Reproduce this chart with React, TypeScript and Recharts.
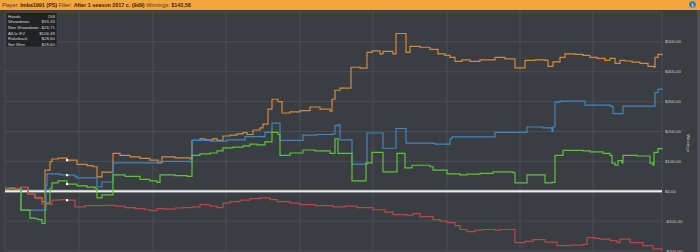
import React from 'react';
import { LineChart, Line, XAxis, YAxis, CartesianGrid, ReferenceLine } from 'recharts';

// ---- data (hand number -> cumulative winnings in $) ----
const orangeHands = [0, 5, 10, 15, 23, 30, 37, 40, 45, 47, 53, 62, 72, 82, 88, 92, 97, 108, 115, 125, 135, 145, 153, 157, 170, 185, 187, 195, 200, 208, 212, 218, 225, 232, 238, 242, 248, 255, 258, 263, 267, 273, 277, 285, 295, 305, 315, 325, 327, 330, 335, 346, 355, 362, 367, 375, 378, 388, 391, 398, 401, 405, 415, 425, 433, 440, 445, 450, 457, 465, 475, 490, 500, 510, 520, 530, 540, 543, 548, 555, 560, 570, 578, 585, 592, 600, 605, 610, 615, 620, 627, 635, 643, 649, 650, 653, 657];
const orangeValues = [10, 12, 9, 13, -10, -22, -35, 71, 99, 108, 111, 104, 90, 86, 82, 48, 64, 127, 120, 115, 110, 104, 95, 115, 112, 108, 170, 175, 172, 176, 170, 185, 188, 192, 196, 190, 205, 212, 225, 275, 308, 300, 262, 266, 270, 282, 275, 268, 308, 338, 345, 415, 412, 465, 470, 460, 468, 460, 528, 528, 465, 485, 482, 475, 460, 455, 448, 435, 440, 435, 440, 448, 443, 413, 438, 440, 438, 418, 433, 448, 460, 458, 455, 448, 445, 438, 445, 428, 438, 436, 432, 428, 418, 415, 448, 458, 455];

const blueHands = [0, 5, 10, 15, 16, 40, 41, 42, 55, 62, 70, 72, 90, 92, 97, 108, 130, 155, 185, 187, 205, 222, 240, 260, 267, 274, 275, 298, 312, 328, 330, 333, 335, 347, 362, 377, 378, 391, 400, 401, 428, 430, 445, 447, 468, 490, 522, 538, 547, 548, 550, 555, 577, 580, 605, 608, 618, 648, 650, 653, 657];
const blueValues = [10, 12, 9, 12, -63, -63, 20, 58, 55, 54, 50, 45, 45, 15, 31, 95, 95, 100, 97, 170, 168, 172, 183, 197, 228, 228, 170, 188, 190, 192, 220, 222, 172, 91, 195, 195, 144, 210, 210, 161, 160, 158, 175, 182, 182, 197, 215, 212, 200, 215, 298, 302, 302, 288, 285, 260, 285, 285, 330, 342, 345];

const greenHands = [0, 5, 10, 15, 16, 25, 30, 33, 37, 40, 45, 47, 53, 62, 72, 82, 90, 92, 97, 108, 120, 135, 145, 152, 155, 170, 182, 187, 195, 205, 212, 218, 228, 238, 245, 252, 260, 267, 273, 275, 285, 298, 310, 325, 330, 333, 347, 361, 367, 378, 392, 400, 407, 425, 428, 442, 455, 462, 475, 488, 508, 510, 522, 537, 540, 547, 550, 558, 578, 585, 598, 605, 607, 610, 613, 617, 618, 632, 645, 648, 649, 653, 657];
const greenValues = [7, 9, 6, 10, -63, -90, -92, -95, -108, -40, 10, 28, 35, 24, 18, 14, 10, -22, -12, 55, 50, 40, 35, 30, 55, 52, 50, 120, 125, 128, 135, 145, 148, 152, 158, 155, 165, 197, 190, 120, 128, 138, 135, 127, 175, 127, 35, 95, 130, 65, 127, 78, 87, 82, 71, 58, 55, 57, 60, 65, 62, 28, 55, 55, 28, 30, 120, 137, 135, 132, 127, 120, 94, 87, 103, 95, 120, 118, 94, 87, 130, 143, 145];

const redHands = [0, 5, 10, 15, 23, 30, 33, 37, 45, 47, 55, 62, 70, 80, 90, 100, 110, 120, 130, 140, 145, 152, 160, 170, 178, 188, 195, 205, 212, 218, 225, 235, 245, 255, 265, 272, 285, 295, 310, 328, 340, 352, 368, 380, 388, 402, 408, 415, 428, 435, 442, 450, 455, 462, 470, 478, 490, 495, 510, 520, 528, 540, 552, 565, 578, 582, 590, 595, 605, 612, 615, 625, 638, 648, 657];
const redValues = [10, 12, 9, 12, -10, -20, -25, -43, -45, -30, -28, -30, -52, -48, -48, -47, -50, -55, -58, -62, -65, -58, -60, -56, -55, -52, -45, -50, -55, -40, -35, -30, -25, -22, -28, -35, -40, -45, -48, -52, -50, -55, -62, -70, -78, -80, -75, -85, -95, -100, -105, -115, -128, -135, -130, -128, -130, -128, -172, -168, -162, -170, -182, -180, -178, -155, -158, -160, -165, -172, -160, -172, -182, -193, -200];

const yTicks = [-200, -100, 0, 100, 200, 300, 400, 500, 600];
const markerHand = 62;

const statLabels = ['Hands', 'Showdown', 'Non Showdown', 'All-In EV', 'Rakeback', 'Net Won'];
const statValues = ['158', '$55,33', '-$26,71', '$106,48', '$28,60', '$28,60'];

// ---- build chart table ----
type Row = { hand: number; [k: string]: number };
function buildData(): Row[] {
  const series: [string, number[], number[]][] = [
    ['orange', orangeHands, orangeValues],
    ['blue', blueHands, blueValues],
    ['green', greenHands, greenValues],
    ['red', redHands, redValues],
  ];
  const map = new Map<number, Row>();
  series.forEach(([key, hs, vs]) => {
    hs.forEach((h, i) => {
      const row = map.get(h) ?? ({ hand: h } as Row);
      row[key] = vs[i];
      map.set(h, row);
    });
  });
  return Array.from(map.values()).sort((a, b) => a.hand - b.hand);
}
const data = buildData();

const FONT = '"Liberation Sans", "DejaVu Sans", Arial, sans-serif';
const BG = '#3a3d42';
const GRID = '#4b4f55';

const fmt = (v: number) => (v < 0 ? `-$${Math.abs(v)},00` : `$${v},00`);

const YTick = (props: any) => {
  const { y, payload } = props;
  if (payload.value === 600) return <g />;
  return (
    <text x={665} y={y + 1.6} fontSize={4.4} fill="#c8cacc" fontFamily={FONT} textAnchor="start">
      {fmt(payload.value)}
    </text>
  );
};

const makeDot = (key: string) => (props: any) => {
  const { cx, cy, payload, index } = props;
  if (payload && payload.hand === markerHand && payload[key] != null && cy != null) {
    return <rect key={`m-${key}-${index}`} x={cx - 1} y={cy - 1.1} width={2.2} height={2.2} fill="#ffffff" />;
  }
  return <g key={`m-${key}-${index}`} />;
};

const series = [
  { key: 'orange', color: '#d48a3e' },
  { key: 'blue', color: '#3f87c2' },
  { key: 'green', color: '#5cc43a' },
  { key: 'red', color: '#b84848' },
];

export default function App() {
  return (
    <div style={{ position: 'fixed', left: 0, top: 0, width: 700, height: 252, background: BG, overflow: 'hidden' }}>
      <LineChart width={700} height={252} data={data} margin={{ top: 12, right: 0, bottom: 1, left: 5 }}>
        <CartesianGrid
          stroke={GRID}
          strokeWidth={1}
          verticalPoints={[5, 79, 153, 226, 300, 373, 447, 520, 593, 662]}
        />
        <XAxis dataKey="hand" type="number" domain={[0, 657]} hide />
        <YAxis
          orientation="right"
          width={38}
          domain={[-200, 600]}
          ticks={yTicks}
          interval={0}
          axisLine={false}
          tickLine={false}
          tick={<YTick />}
        />
        <ReferenceLine y={0} stroke="#9a9c9e" strokeWidth={3} />
        <ReferenceLine y={0} stroke="#ececec" strokeWidth={1.4} />
        {series.map((s) => (
          <Line
            key={s.key}
            dataKey={s.key}
            type="stepAfter"
            stroke={s.color}
            strokeWidth={1.2}
            connectNulls
            isAnimationActive={false}
            dot={makeDot(s.key)}
            activeDot={false}
          />
        ))}
      </LineChart>

      <svg width={700} height={252} style={{ position: 'absolute', left: 0, top: 0, pointerEvents: 'none' }}>
        {/* header bar */}
        <rect x={0} y={0} width={700} height={10} fill="#f2a63e" />
        <text x={2} y={7} fontSize={5.4} fontFamily={FONT} fill="#5a3a10">
          <tspan>Player: </tspan>
          <tspan fontWeight="bold" fill="#3a2508">Imba1991 (PS)</tspan>
          <tspan> Filter: </tspan>
          <tspan fontWeight="bold" fill="#3a2508">After 1 season 2017 c. (9d9)</tspan>
          <tspan> Winnings: </tspan>
          <tspan fontWeight="bold" fill="#3a2508">$142,58</tspan>
        </text>
        {/* info icon */}
        <circle cx={692.5} cy={4.5} r={3.3} fill="#2f78d0" />
        <text x={692.5} y={6.6} fontSize={5} fontWeight="bold" fill="#fff" textAnchor="middle" fontFamily={FONT}>i</text>
        {/* right strip */}
        <rect x={697} y={10} width={3} height={242} fill="#4c4f54" />

        {/* axis title */}
        <text
          x={687}
          y={143}
          fontSize={4.3}
          fill="#c8cacc"
          fontFamily={FONT}
          textAnchor="middle"
          transform="rotate(90 687 143)"
        >
          Winnings
        </text>

        {/* stats box */}
        <rect x={6} y={12.5} width={51} height={34.5} fill="#1f2124" stroke="#4a4d52" strokeWidth={0.6} />
        {statLabels.map((l, i) => (
          <g key={l}>
            <text x={8} y={17.6 + i * 5.65} fontSize={4.4} fill="#d8d8d8" fontFamily={FONT}>{l}</text>
            <text x={55} y={17.6 + i * 5.65} fontSize={4.4} fill="#d8d8d8" fontFamily={FONT} textAnchor="end">{statValues[i]}</text>
            {i < statLabels.length - 1 && (
              <line x1={7} x2={56} y1={18.9 + i * 5.65} y2={18.9 + i * 5.65} stroke="#2c2e32" strokeWidth={0.5} />
            )}
          </g>
        ))}
      </svg>
    </div>
  );
}
